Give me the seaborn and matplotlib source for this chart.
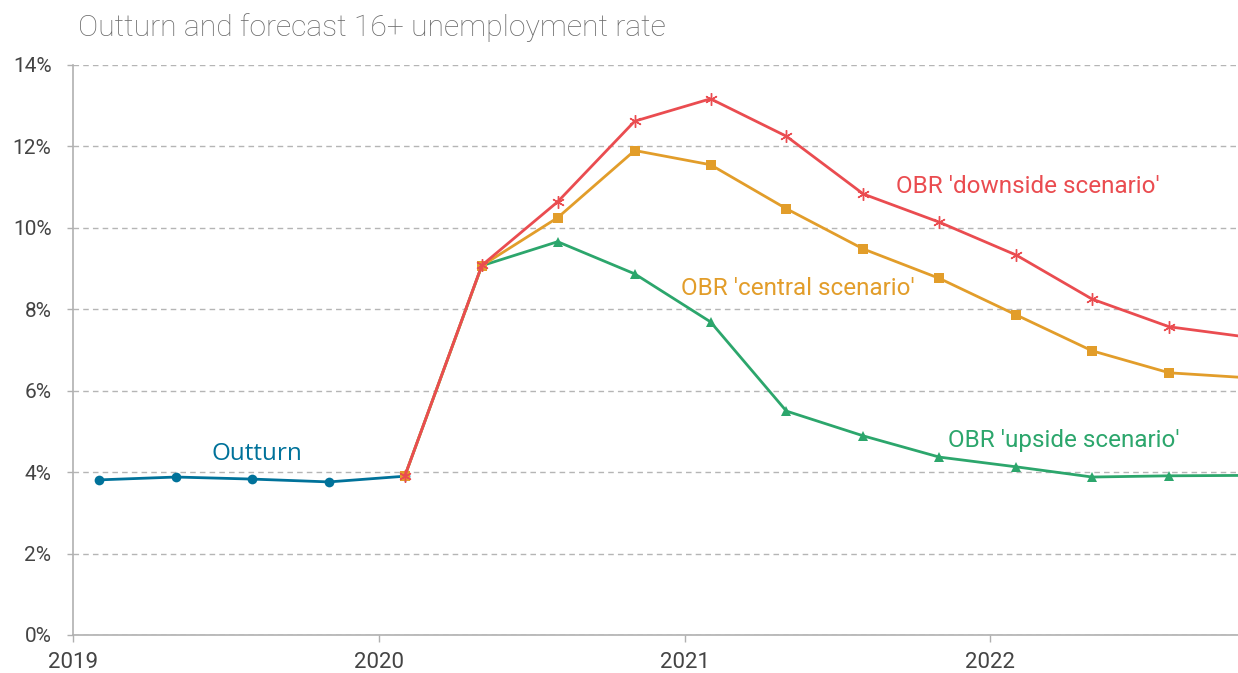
import matplotlib
matplotlib.use("Agg")
import matplotlib.pyplot as plt
import seaborn as sns
import pandas as pd
import numpy as np

# Data (decimal years, unemployment %)
outturn_x = [2019.085, 2019.337, 2019.585, 2019.837, 2020.085]
outturn_y = [3.81, 3.88, 3.83, 3.76, 3.90]

fc_x = [2020.085, 2020.337, 2020.585, 2020.837, 2021.085, 2021.333, 2021.585,
        2021.833, 2022.085, 2022.333, 2022.585, 2022.837]
downside_y = [3.90, 9.08, 10.64, 12.62, 13.17, 12.25, 10.83, 10.14, 9.33, 8.25, 7.57, 7.32]
central_y = [3.90, 9.07, 10.25, 11.90, 11.55, 10.47, 9.48, 8.76, 7.86, 6.98, 6.44, 6.32]
upside_y = [3.90, 9.07, 9.66, 8.87, 7.69, 5.50, 4.89, 4.37, 4.13, 3.88, 3.91, 3.92]

year_ticks = [2019, 2020, 2021, 2022]
y_ticks = [0, 2, 4, 6, 8, 10, 12, 14]

c_out = "#00729a"
c_down = "#ea4c50"
c_cen = "#e29d2a"
c_up = "#2ca66c"

sns.set_theme(style="white")
plt.rcParams['font.family'] = ['Roboto', 'DejaVu Sans']

fig = plt.figure(figsize=(12.38, 6.73), dpi=100)
ax = fig.add_axes([73/1238, 38/673, 1 - 73/1238, (635-65)/673])

df_out = pd.DataFrame({"x": outturn_x, "y": outturn_y})
df_up = pd.DataFrame({"x": fc_x, "y": upside_y})
df_cen = pd.DataFrame({"x": fc_x, "y": central_y})
df_down = pd.DataFrame({"x": fc_x, "y": downside_y})

sns.lineplot(data=df_out, x="x", y="y", ax=ax, color=c_out, lw=2, marker="o",
             markersize=7, markeredgewidth=0, zorder=3)
sns.lineplot(data=df_up, x="x", y="y", ax=ax, color=c_up, lw=2, marker="^",
             markersize=7, markeredgewidth=0, zorder=4)
sns.lineplot(data=df_cen, x="x", y="y", ax=ax, color=c_cen, lw=2, marker="s",
             markersize=7.5, markeredgewidth=0, zorder=5)
sns.lineplot(data=df_down, x="x", y="y", ax=ax, color=c_down, lw=2, marker=(6, 2, 0),
             markersize=9, markeredgewidth=1, markeredgecolor=c_down, zorder=6)

ax.set_xlim(2019, 2022.81)
ax.set_ylim(0, 14)
ax.set_xticks(year_ticks)
ax.set_xticklabels([str(t) for t in year_ticks])
ax.set_yticks(y_ticks)
ax.set_yticklabels([f"{t}%" for t in y_ticks])
ax.set_xlabel("")
ax.set_ylabel("")

ax.grid(axis="y", color="#b5b5b5", linestyle=(0, (4, 3)), linewidth=1)
ax.grid(axis="x", visible=False)
for s in ["top", "right"]:
    ax.spines[s].set_visible(False)
for s in ["left", "bottom"]:
    ax.spines[s].set_color("#b0b0b0")
    ax.spines[s].set_linewidth(1.2)

ax.tick_params(axis="x", which="major", length=5, color="#b0b0b0", width=1,
               labelsize=16, labelcolor="#444444", pad=7, direction="out", bottom=True)
ax.tick_params(axis="y", which="major", length=4.5, color="#b0b0b0", width=1,
               labelsize=15, labelcolor="#444444", pad=11, direction="out", left=True)

ax.text(2019.6, 4.45, "Outturn", color=c_out, fontsize=17.5, ha="center", va="center",
        family=["Open Sans", "DejaVu Sans"])
ax.text(2021.69, 11.02, "OBR 'downside scenario'", color=c_down, fontsize=17.5, ha="left", va="center")
ax.text(2020.99, 8.5, "OBR 'central scenario'", color=c_cen, fontsize=17.5, ha="left", va="center")
ax.text(2021.86, 4.78, "OBR 'upside scenario'", color=c_up, fontsize=17.5, ha="left", va="center")

fig.text(78/1238, 1 - 28/673, "Outturn and forecast 16+ unemployment rate", color="#6a6a6a",
         fontsize=21.7, fontweight="light", ha="left", va="center")

fig.savefig("out.png", dpi=100)
